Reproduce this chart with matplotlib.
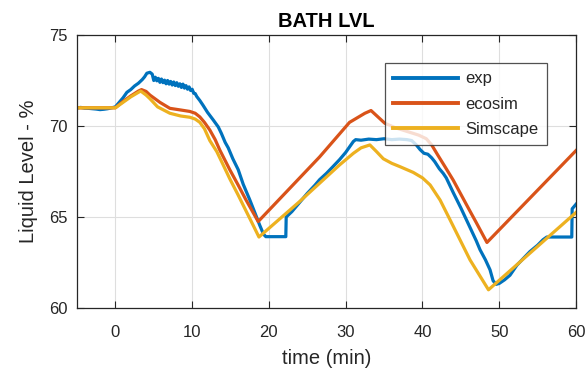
import matplotlib
matplotlib.use("Agg")
import matplotlib.pyplot as plt

plt.rcParams['font.family'] = ['Liberation Sans', 'DejaVu Sans']

# Measured bath level (exp)
t_exp = [-5, -4.5, -4, -3.5, -3, -2.5, -2, -1.5, -1, -0.5, 0, 0.5, 1.0, 1.5, 2.0, 2.5,
         3.0, 3.5, 3.8, 4.1, 4.5, 4.8, 5.0, 5.2, 5.4, 5.6, 5.8, 6.0, 6.2, 6.4, 6.6, 6.8,
         7.0, 7.2, 7.4, 7.6, 7.8, 8.0, 8.2, 8.4, 8.6, 8.8, 9.0, 9.2, 9.4, 9.6, 9.8, 10.0,
         10.2, 10.4, 10.6, 11.0, 11.4, 12.0, 12.75, 13.4, 13.8, 14.3, 14.7, 15.3, 16.0,
         16.65, 17.5, 18.2, 18.8, 19.3, 19.6, 20.5, 21.5, 22.2, 22.25, 23.0, 24.0, 25.0,
         26.0, 26.6, 27.5, 28.3, 29.2, 30.0, 30.5, 31.0, 31.3, 32, 33, 34, 35, 36, 37,
         38, 38.6, 39.2, 39.7, 40.2, 40.7, 41.2, 41.6, 42.2, 42.7, 43.1, 44, 45, 46, 47,
         47.5, 48.2, 48.8, 49.2, 49.6, 50.0, 50.7, 51.4, 52.3, 53.2, 54.0, 55.0, 55.7,
         56.2, 57, 58, 59, 59.45, 59.5, 59.8, 60]
exp = [71.00, 71.02, 70.98, 70.97, 70.95, 70.93, 70.90, 70.92, 70.95, 71.00, 71.05,
       71.30, 71.55, 71.85, 72.00, 72.20, 72.35, 72.55, 72.70, 72.90, 72.95, 72.85,
       72.50, 72.68, 72.48, 72.62, 72.40, 72.58, 72.38, 72.52, 72.32, 72.50, 72.30,
       72.45, 72.25, 72.42, 72.22, 72.38, 72.18, 72.32, 72.12, 72.30, 72.08, 72.22,
       72.02, 72.15, 71.95, 72.02, 71.80, 71.78, 71.62, 71.40, 71.15, 70.75, 70.33,
       69.95, 69.60, 69.10, 68.80, 68.20, 67.60, 66.80, 65.95, 65.20, 64.55, 64.05,
       63.92, 63.92, 63.92, 63.92, 65.00, 65.30, 65.80, 66.30, 66.75, 67.05, 67.40,
       67.75, 68.15, 68.55, 68.85, 69.15, 69.25, 69.22, 69.28, 69.25, 69.30, 69.25,
       69.28, 69.25, 69.20, 68.96, 68.70, 68.50, 68.45, 68.25, 68.04, 67.65, 67.40,
       67.15, 66.35, 65.50, 64.60, 63.70, 63.20, 62.65, 62.10, 61.50, 61.30, 61.35,
       61.55, 61.80, 62.35, 62.75, 63.10, 63.45, 63.75, 63.90, 63.90, 63.90, 63.90,
       63.90, 65.45, 65.60, 65.70]

# ecosim model
t_eco = [-5, 0, 1, 2, 3, 3.4, 4, 4.5, 5.8, 7.1, 8.5, 9.7, 10.4, 11, 11.6, 12.3, 13,
         13.6, 14.9, 16, 17, 18, 18.6, 26.6, 30.5, 31.5, 32.5, 33.3, 34.2, 35.1, 36.5,
         38, 39.5, 40.5, 41.2, 42, 43, 44, 45, 46, 47, 48.4, 60]
ecosim = [71, 71, 71.35, 71.65, 71.92, 72.0, 71.9, 71.7, 71.3, 70.97, 70.88, 70.8,
          70.7, 70.5, 70.2, 69.78, 69.25, 68.68, 67.6, 66.75, 65.95, 65.2, 64.75, 68.3,
          70.2, 70.45, 70.7, 70.85, 70.5, 70.15, 69.9, 69.7, 69.5, 69.3, 68.96, 68.4,
          67.72, 67.03, 66.25, 65.47, 64.7, 63.6, 68.65]

# Simscape model
t_sim = [-5, 0, 1, 2, 3, 3.3, 4, 4.5, 5.5, 7.1, 8.5, 9.7, 10.4, 11, 11.6, 12.3, 13.2,
         14, 14.9, 16, 17, 18, 18.7, 24, 29.2, 31, 32, 33.15, 34, 34.9, 36, 37.1, 38.8,
         40, 41, 42.3, 43.6, 46.2, 48.6, 60]
simscape = [71, 71, 71.3, 71.6, 71.85, 71.92, 71.7, 71.5, 71.05, 70.7, 70.55, 70.48,
            70.38, 70.2, 69.85, 69.2, 68.6, 67.9, 67.1, 66.2, 65.35, 64.5, 63.9, 65.85,
            67.86, 68.5, 68.8, 68.96, 68.6, 68.2, 67.95, 67.76, 67.45, 67.15, 66.76,
            65.93, 64.84, 62.64, 61.0, 65.25]

x_ticks = [0, 10, 20, 30, 40, 50, 60]
y_ticks = [60, 65, 70, 75]

c_exp = (0.0, 0.447, 0.741)
c_eco = (0.85, 0.325, 0.098)
c_sim = (0.929, 0.694, 0.125)
txt = '#262626'

fig = plt.figure(figsize=(5.88, 3.74), dpi=100)
ax = fig.add_axes([77 / 588, 1 - 308 / 374, 499 / 588, 273 / 374])

ax.plot(t_exp, exp, color=c_exp, lw=2.3, label='exp')
ax.plot(t_eco, ecosim, color=c_eco, lw=2.3, label='ecosim')
ax.plot(t_sim, simscape, color=c_sim, lw=2.3, label='Simscape')

ax.set_xlim(-5, 60)
ax.set_ylim(60, 75)
ax.set_xticks(x_ticks)
ax.set_yticks(y_ticks)
ax.grid(True, color='#dedede', lw=0.8)
ax.set_axisbelow(True)
ax.tick_params(direction='in', length=5, width=0.8, top=True, right=True,
               labelsize=12, colors=txt)
ax.tick_params(axis='x', pad=12)
ax.tick_params(axis='y', pad=7)
for s in ax.spines.values():
    s.set_color(txt)
    s.set_linewidth(0.9)

ax.set_title('BATH LVL', fontsize=14.5, fontweight='bold', color='black', pad=6)
ax.set_xlabel('time (min)', fontsize=14.5, color=txt, labelpad=7)
ax.set_ylabel('Liquid Level - %', fontsize=14.5, color=txt, labelpad=8)

leg = ax.legend(loc='upper right', bbox_to_anchor=(0.942, 0.897), fontsize=12,
                frameon=True, fancybox=False, handlelength=3.9, handletextpad=0.45,
                labelspacing=0.62, borderpad=0.5, borderaxespad=0)
leg.get_frame().set_edgecolor(txt)
leg.get_frame().set_linewidth(0.9)
for lh in leg.get_lines():
    lh.set_linewidth(2.8)
for tx in leg.get_texts():
    tx.set_color(txt)

fig.savefig('out.png', dpi=100)
